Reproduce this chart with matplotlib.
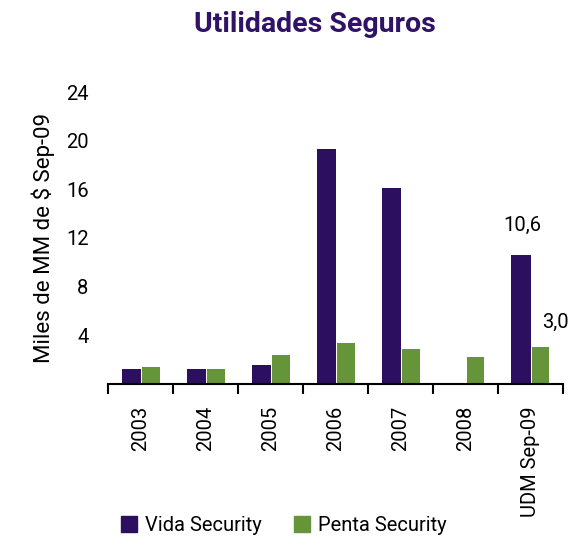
import matplotlib.pyplot as plt
import numpy as np
from matplotlib.patches import Patch

# Profit by year, in thousands of millions of pesos (Sep-09 currency).
categories = ["2003", "2004", "2005", "2006", "2007", "2008", "UDM Sep-09"]
vida = [1.2, 1.2, 1.6, 19.3, 16.1, 0.0, 10.6]
penta = [1.4, 1.2, 2.4, 3.4, 2.9, 2.2, 3.0]
y_ticks = [4, 8, 12, 16, 20, 24]

PURPLE = "#2C0F5F"
GREEN = "#669438"
TITLE_COLOR = "#301266"

plt.rcParams["font.family"] = ["Roboto", "DejaVu Sans"]

fig = plt.figure(figsize=(5.79, 5.39), dpi=100)
ax = fig.add_axes([0.1865, 0.2876, 0.7855, 0.5417])

x = np.arange(len(categories))
width = 0.3
ax.bar(x - width / 2 + 0.01, vida, width, color=PURPLE)
ax.bar(x + width / 2 + 0.01, penta, width * 0.9, color=GREEN)

ax.set_xlim(-0.5, len(categories) - 0.5)
ax.set_ylim(0, 24)

# y axis: labels only, no line
ax.set_yticks(y_ticks)
ax.tick_params(axis="y", length=0, pad=14, labelsize=14.5)
ax.set_ylabel("Miles de MM de $ Sep-09", fontsize=16, labelpad=8)

# x axis: labels rotated, tick marks between categories
ax.set_xticks(x)
ax.set_xticklabels(categories, rotation=90, fontsize=14.5)
ax.tick_params(axis="x", which="major", length=0, pad=16)
ax.set_xticks(np.arange(-0.5, len(categories)), minor=True)
ax.tick_params(axis="x", which="minor", length=7, width=1.5, direction="out")

for side in ["top", "right", "left"]:
    ax.spines[side].set_visible(False)
ax.spines["bottom"].set_linewidth(1.5)

# value labels on the last group
ax.text(x[-1] - 0.13, 13.0, "10,6", ha="center", va="center", fontsize=14.5)
ax.text(x[-1] + 0.39, 5.1, "3,0", ha="center", va="center", fontsize=14.5)

fig.text(0.544, 0.954, "Utilidades Seguros", ha="center", va="center",
         fontsize=20.5, fontweight="semibold", color=TITLE_COLOR)

handles = [Patch(color=PURPLE, label="Vida Security"),
           Patch(color=GREEN, label="Penta Security")]
fig.legend(handles=handles, loc="center left", bbox_to_anchor=(0.195, 0.025),
           ncol=2, frameon=False, fontsize=14.5, handlelength=0.8, handleheight=0.8,
           handletextpad=0.4, columnspacing=1.6, borderaxespad=0)

fig.savefig("out.png", dpi=100)
